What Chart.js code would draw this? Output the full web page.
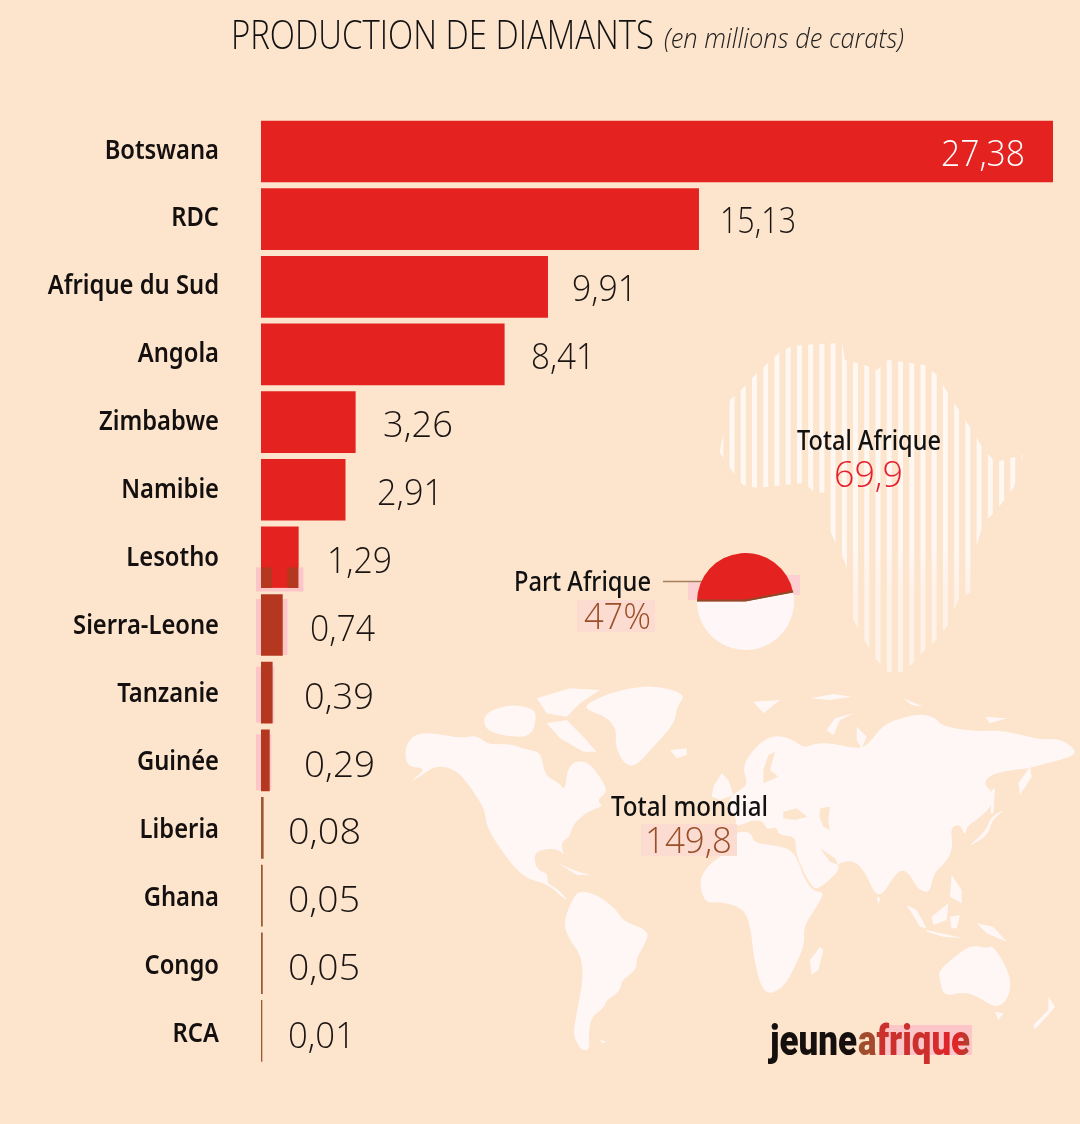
<!DOCTYPE html>
<html>
<head>
<meta charset="utf-8">
<script src="https://cdn.jsdelivr.net/npm/chart.js@4"></script>
<style>
    html, body { margin: 0; padding: 0; background: #fde4cc; }
    #wrap { position: relative; width: 1080px; height: 1124px; overflow: hidden; }
    #barChart { position: absolute; left: 0; top: 0; }
    #pieChart { position: absolute; left: 697px; top: 553px; }
</style>
</head>
<body>
<div id="wrap">
    <canvas id="barChart" width="1080" height="1124"></canvas>
    <canvas id="pieChart" width="97" height="97"></canvas>
</div>
<script>
const countries = ['Botswana', 'RDC', 'Afrique du Sud', 'Angola', 'Zimbabwe', 'Namibie', 'Lesotho',
    'Sierra-Leone', 'Tanzanie', 'Guinée', 'Liberia', 'Ghana', 'Congo', 'RCA'];
const carats = [27.38, 15.13, 9.91, 8.41, 3.26, 2.91, 1.29, 0.74, 0.39, 0.29, 0.08, 0.05, 0.05, 0.01];
const africaShare = [47, 53];
const africaTotal = '69,9';
const worldTotal = '149,8';
const shareLabel = '47%';

const BG = '#fde4cc';
const RED = '#e42320';
const BROWN = '#b43720';
const LAND = '#fff7f5';
const HALO = '#fcc6c8';
const LABEL_FONT = '"Noto Sans"';
const LIGHT = '"Open Sans"';

// where each value label sits, the original spacing is not regular
const labelLeft = [941, 720, 572, 531, 383, 377, 327, 310, 304, 304, 288, 288, 288, 288];
const labelWidth = [84, 76, 65, 64, 70, 66, 65, 65, 70, 71, 73, 72, 72, 67];

const westShapes = [
    // north america
    [[20,190],[50,160],[110,160],[180,175],[230,165],[265,195],[330,190],[380,210],[420,215],[430,260],[440,290],[480,310],[495,335],[505,250],[560,240],[600,290],[625,335],[590,360],[610,380],[570,390],[520,430],[510,470],[480,490],[495,530],[480,510],[440,505],[400,520],[410,570],[445,580],[440,610],[470,625],[505,660],[490,655],[440,610],[390,600],[350,570],[330,545],[290,490],[260,440],[255,390],[215,325],[170,270],[110,255],[60,290],[30,305],[80,265],[25,260],[15,230]],
    // south america
    [[490,725],[520,650],[545,630],[600,650],[650,690],[670,725],[745,750],[740,785],[710,830],[710,870],[665,900],[660,935],[620,960],[610,985],[575,1010],[565,1060],[570,1110],[545,1112],[525,1080],[520,1050],[540,950],[550,880],[540,820],[505,775]],
    // greenland, iceland
    [[545,85],[590,55],[660,30],[760,15],[860,42],[830,80],[825,130],[760,200],[705,262],[670,250],[645,195],[650,150],[620,110]],
    [[810,210],[860,205],[860,225],[830,235]],
    // arctic islands
    [[250,100],[330,72],[400,85],[410,110],[395,170],[320,170],[255,150]],
    [[410,55],[510,25],[600,30],[540,70],[500,110],[440,100]],
    [[440,130],[500,120],[545,165],[590,215],[550,215],[480,175]],
    // cuba, uk
    [[475,550],[520,570],[570,585],[530,585]],
    [[940,320],[965,280],[985,300],[1000,345],[960,360],[935,350]],
    [[600,1080],[620,1085],[605,1090]]
];
const eastShapes = [
    // eurasia
    [[65,260],[110,195],[160,165],[215,175],[250,205],[285,190],[340,190],[400,205],[440,200],[480,145],[520,120],[600,100],[650,115],[660,135],[750,155],[850,150],[960,180],[1020,175],[1075,215],[1040,235],[960,255],[925,265],[870,270],[810,285],[790,310],[820,340],[815,380],[770,420],[740,440],[735,470],[720,430],[690,445],[700,500],[680,545],[640,580],[630,640],[600,630],[590,620],[560,570],[530,575],[475,665],[435,575],[400,540],[350,550],[360,570],[300,625],[275,625],[225,520],[230,470],[175,465],[170,440],[140,450],[130,425],[100,420],[75,430],[45,440],[50,410],[20,395],[30,350],[60,330],[85,310]],
    // africa with morocco and iberia block
    [[-60,600],[-40,560],[0,530],[40,500],[40,455],[95,455],[100,490],[170,495],[225,515],[250,590],[280,635],[315,635],[290,680],[250,740],[255,790],[225,860],[190,925],[130,948],[100,830],[95,760],[75,685],[0,665],[-40,670],[-55,640]],
    [[300,800],[310,810],[295,870],[275,885],[270,840]],
    // arctic
    [[100,65],[180,60],[130,100]],
    [[270,55],[340,42],[395,50],[330,60]],
    [[320,150],[345,115],[405,98],[360,120],[340,165]],
    [[410,140],[440,170],[425,205],[410,180]],
    [[550,55],[610,80],[575,75]],
    [[795,110],[860,115],[810,130]],
    // kamchatka, sakhalin, japan
    [[930,260],[895,310],[900,345],[935,290]],
    [[815,330],[825,325],[820,400],[812,400]],
    [[750,495],[800,450],[812,410],[860,385],[815,420],[805,465],[755,495]],
    // south east asia
    [[560,675],[590,690],[620,745],[600,740]],
    [[620,750],[730,775],[670,770],[620,755]],
    [[635,710],[685,670],[680,720],[640,735]],
    [[690,710],[720,705],[710,745],[695,745]],
    [[770,730],[820,740],[860,785],[800,760]],
    [[695,585],[725,630],[725,670],[690,650]],
    [[470,650],[482,655],[475,672]],
    // australia and around
    [[655,870],[730,810],[760,795],[800,805],[820,795],[875,890],[865,960],[825,985],[775,950],[730,935],[670,950],[660,900]],
    [[825,995],[850,1000],[835,1020]],
    [[985,950],[1005,980],[985,1005],[945,1048],[940,1035],[985,990]]
];
const eastSeas = [
    [[190,395],[230,385],[262,410],[225,420],[190,415]],
    [[300,385],[330,380],[325,420],[330,450],[310,440],[298,410]],
    [[300,505],[345,535],[355,555],[330,545]],
    [[130,310],[175,290],[150,270],[165,215],[145,225],[130,270]]
];
const africaShape = [[720,450],[730,400],[743,388],[755,375],[768,363],[780,352],[792,346],[817,344],[842,343],[845,360],[865,365],[877,370],[888,360],[925,365],[937,375],[948,393],[960,412],[972,430],[983,448],[995,462],[1023,455],[1014,487],[995,512],[984,522],[975,550],[975,590],[959,598],[948,625],[936,640],[923,652],[911,665],[902,672],[887,672],[875,658],[864,640],[852,617],[850,577],[843,558],[837,547],[827,523],[825,493],[814,492],[804,483],[757,488],[743,485],[730,468],[720,453]];

function tracePath(ctx, points) {
    ctx.beginPath();
    points.forEach((p, i) => i ? ctx.lineTo(p[0], p[1]) : ctx.moveTo(p[0], p[1]));
    ctx.closePath();
}

// rounds the corners of the longer outlines so they look less like polygons
function traceSmooth(ctx, points) {
    const n = points.length;
    ctx.beginPath();
    ctx.moveTo((points[n - 1][0] + points[0][0]) / 2, (points[n - 1][1] + points[0][1]) / 2);
    points.forEach((p, i) => {
        const next = points[(i + 1) % n];
        ctx.quadraticCurveTo(p[0], p[1], (p[0] + next[0]) / 2, (p[1] + next[1]) / 2);
    });
    ctx.closePath();
}

function fillShapes(ctx, shapes, originX, originY, color) {
    ctx.save();
    ctx.translate(originX, originY);
    ctx.scale(1 / 3, 1 / 3);
    ctx.fillStyle = color;
    shapes.forEach(shape => {
        if (shape.length > 6) {
            traceSmooth(ctx, shape);
        } else {
            tracePath(ctx, shape);
        }
        ctx.fill();
    });
    ctx.restore();
}

function drawAfrica(ctx) {
    ctx.save();
    tracePath(ctx, africaShape);
    ctx.clip();
    const fade = ctx.createLinearGradient(0, 550, 0, 590);
    fade.addColorStop(0, '#fff7f2');
    fade.addColorStop(1, '#fef1e8');
    ctx.fillStyle = fade;
    for (let x = 718.3; x < 1030; x += 11.23) {
        ctx.fillRect(x, 330, 5, 350);
    }
    ctx.restore();
}

function textWidth(ctx, text, font) {
    ctx.save();
    ctx.font = font;
    const w = ctx.measureText(text).width;
    ctx.restore();
    return w;
}

// text squeezed between two x positions, the installed fonts are wider than the original
function fitText(ctx, text, x0, x1, y, font, color) {
    ctx.save();
    ctx.font = font;
    ctx.fillStyle = color;
    ctx.textAlign = 'left';
    ctx.textBaseline = 'alphabetic';
    ctx.translate(x0, y);
    ctx.scale((x1 - x0) / ctx.measureText(text).width, 1);
    ctx.fillText(text, 0, 0);
    ctx.restore();
}

function formatValue(v) {
    return v.toFixed(2).replace('.', ',');
}

const backgroundPlugin = {
    id: 'background',
    beforeDraw(chart) {
        const ctx = chart.ctx;
        ctx.fillStyle = BG;
        ctx.fillRect(0, 0, chart.width, chart.height);
        fillShapes(ctx, westShapes, 400, 680, LAND);
        fillShapes(ctx, eastShapes, 720, 680, LAND);
        fillShapes(ctx, eastSeas, 720, 680, BG);
        drawAfrica(ctx);
    },
    beforeDatasetsDraw(chart) {
        // pale halo left by the print around the small bars
        const ctx = chart.ctx;
        chart.getDatasetMeta(0).data.forEach((bar, i) => {
            if (carats[i] < 1 && carats[i] > 0.1) {
                const top = bar.y - 26;
                ctx.fillStyle = HALO;
                ctx.fillRect(bar.base - 5, top, 5, 56);
                ctx.fillRect(bar.x, top, carats[i] > 0.5 ? 5 : 2, 56);
            }
        });
    },
    afterDatasetsDraw(chart) {
        // same print defect at the foot of the Lesotho bar
        const ctx = chart.ctx;
        const bar = chart.getDatasetMeta(0).data[6];
        ctx.fillStyle = HALO;
        ctx.fillRect(bar.base - 5, bar.y + 10, 5, 24);
        ctx.fillRect(bar.x, bar.y + 10, 5, 24);
        ctx.fillRect(bar.base - 5, bar.y + 30.5, bar.x - bar.base + 10, 3.5);
        ctx.fillStyle = BROWN;
        ctx.fillRect(bar.base, bar.y + 10, 11, 20.5);
        ctx.fillRect(bar.x - 11, bar.y + 10, 11, 20.5);
    }
};

const textPlugin = {
    id: 'texts',
    afterDraw(chart) {
        const ctx = chart.ctx;
        const light = '300 37px ' + LIGHT;

        // country labels, their rows run a little wider than the bars
        const yScale = chart.scales.y;
        const nameFont = '600 27px ' + LABEL_FONT;
        countries.forEach((name, i) => {
            const w = textWidth(ctx, name, nameFont) * 0.88;
            fitText(ctx, name, 219 - w, 219, yScale.getPixelForValue(i) + 7 + 0.3 * i, nameFont, '#141010');
        });

        chart.getDatasetMeta(0).data.forEach((bar, i) => {
            const color = i === 0 ? '#ffffff' : '#1a1412';
            const y = bar.y + 14 + 0.25 * i;
            fitText(ctx, formatValue(carats[i]), labelLeft[i], labelLeft[i] + labelWidth[i], y, light, color);
        });

        fitText(ctx, 'PRODUCTION DE DIAMANTS', 231, 654, 49, '300 40px ' + LIGHT, '#111111');
        fitText(ctx, '(en millions de carats)', 664, 904, 48, 'italic 300 28px ' + LIGHT, '#222222');

        // pale marks behind the brown figures and the pie
        ctx.fillStyle = '#fcdcd0';
        ctx.fillRect(641, 824, 96, 32);
        ctx.fillRect(577, 600, 78, 32);
        ctx.fillStyle = '#fcd0d0';
        ctx.fillRect(688, 582, 20, 18);
        ctx.fillRect(775, 575, 25, 20);

        const label = '500 27px ' + LABEL_FONT;
        fitText(ctx, 'Total Afrique', 797, 941, 450, label, '#111111');
        fitText(ctx, africaTotal, 834, 903, 487, light, '#e4202c');
        fitText(ctx, 'Part Afrique', 514, 651, 591, label, '#111111');
        fitText(ctx, shareLabel, 584, 651, 629, light, '#9a4f2a');
        fitText(ctx, 'Total mondial', 611, 768, 816, label, '#111111');
        fitText(ctx, worldTotal, 645, 732, 853, light, '#9a4f2a');

        // leader line to the pie
        ctx.strokeStyle = '#a5805f';
        ctx.lineWidth = 1.5;
        ctx.beginPath();
        ctx.moveTo(663, 581.5);
        ctx.lineTo(703, 581.5);
        ctx.stroke();

        // logo
        ctx.fillStyle = HALO;
        ctx.fillRect(880, 1025, 92, 30);
        const logo = '900 43px Roboto';
        fitText(ctx, 'jeune', 770, 857, 1055, logo, '#15100e');
        // fitText moves the origin, so the gradient runs along the unscaled word
        const logoRed = ctx.createLinearGradient(0, 0, textWidth(ctx, 'afrique', logo), 0);
        logoRed.addColorStop(0, '#9c4f2c');
        logoRed.addColorStop(0.16, '#a8482c');
        logoRed.addColorStop(0.2, '#cc302c');
        logoRed.addColorStop(0.6, '#cc302c');
        logoRed.addColorStop(0.8, '#e0252a');
        logoRed.addColorStop(0.88, '#e0252a');
        logoRed.addColorStop(1, '#a8462e');
        fitText(ctx, 'afrique', 858, 970, 1055, logo, logoRed);
    }
};

// brown edge along the straight sides of the Africa slice
const sliceEdgePlugin = {
    id: 'sliceEdge',
    afterDatasetsDraw(chart) {
        const ctx = chart.ctx;
        const arc = chart.getDatasetMeta(0).data[0];
        ctx.strokeStyle = '#8e4a28';
        ctx.lineWidth = 2;
        ctx.beginPath();
        ctx.moveTo(arc.x + Math.cos(arc.startAngle) * arc.outerRadius, arc.y + Math.sin(arc.startAngle) * arc.outerRadius - 1);
        ctx.lineTo(arc.x, arc.y - 1);
        ctx.lineTo(arc.x + Math.cos(arc.endAngle) * arc.outerRadius, arc.y + Math.sin(arc.endAngle) * arc.outerRadius - 1);
        ctx.stroke();
    }
};

function createBarChart() {
    const ctx = document.querySelector('#barChart').getContext('2d');
    return new Chart(ctx, {
        type: 'bar',
        data: {
            labels: countries,
            datasets: [{
                data: carats,
                barThickness: 61,
                minBarLength: 1,
                borderWidth: 0,
                backgroundColor: c => {
                    if (c.raw >= 1) return RED;
                    return c.raw > 0.1 ? BROWN : '#9c5a34';
                }
            }]
        },
        options: {
            indexAxis: 'y',
            responsive: false,
            animation: false,
            devicePixelRatio: 1,
            layout: { padding: { top: 117.7, bottom: 59.3, left: 0, right: 27 } },
            plugins: {
                legend: { display: false },
                tooltip: { enabled: false }
            },
            scales: {
                x: { display: false, min: 0, max: 27.38 },
                y: {
                    afterFit: scale => { scale.width = 261; },
                    border: { display: false },
                    grid: { display: false, drawTicks: false },
                    ticks: { display: false }
                }
            }
        },
        plugins: [backgroundPlugin, textPlugin]
    });
}

function createPieChart() {
    const ctx = document.querySelector('#pieChart').getContext('2d');
    return new Chart(ctx, {
        type: 'pie',
        data: {
            labels: ['Afrique', 'Reste du monde'],
            datasets: [{
                data: africaShare,
                backgroundColor: [RED, '#fff6f8'],
                borderWidth: 0
            }]
        },
        options: {
            responsive: false,
            animation: false,
            devicePixelRatio: 1,
            rotation: -90,
            plugins: {
                legend: { display: false },
                tooltip: { enabled: false }
            }
        },
        plugins: [sliceEdgePlugin]
    });
}

createBarChart();
createPieChart();
</script>
</body>
</html>
